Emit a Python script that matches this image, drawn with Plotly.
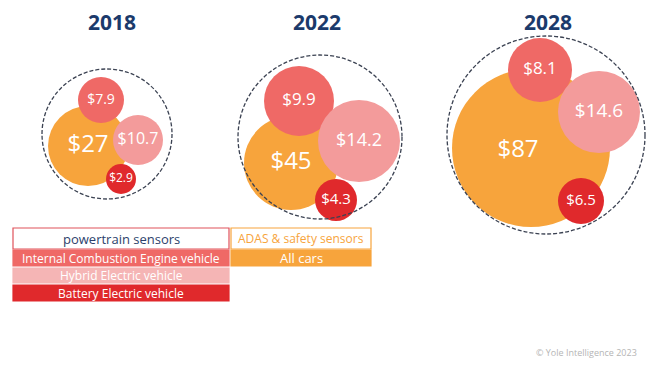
import plotly.graph_objects as go

# ---- data ----
years = ["2018", "2022", "2028"]
all_cars = [27, 45, 87]
ice_vehicle = [7.9, 9.9, 8.1]
hybrid_vehicle = [10.7, 14.2, 14.6]
battery_vehicle = [2.9, 4.3, 6.5]
segment_names = ["All cars", "Internal Combustion Engine vehicle",
                 "Hybrid Electric vehicle", "Battery Electric vehicle"]

# ---- layout (page pixel space) ----
W, H = 660, 372
OFF = 8  # browser body margin
colors = {"All cars": "#F7A43C", "Internal Combustion Engine vehicle": "#EF6966",
          "Hybrid Electric vehicle": "#F39B9B", "Battery Electric vehicle": "#E0292C"}
title_x = [112, 317, 548]
outer = [(107, 134, 65), (320, 137, 82), (546, 135, 99)]
# per year: (cx, cy, radius, font size, label dx, label dy) for each segment in order
bubble_pos = [
    [(88, 146, 40, 24, 0, 0), (101, 100, 23, 14, 0, 0), (138, 140, 25, 16, 0, 0), (121, 179, 15, 12, 0, 0)],
    [(291, 163, 47, 24, 0, 0), (299, 101, 35, 17, 0, 0), (359, 141, 41, 18, 0, 0), (336, 200, 21, 15, 0, 0)],
    [(531, 148, 79, 24, -13, 3), (540, 70, 32, 17, 0, 0), (599, 112, 41, 19, 0, 0), (581, 201, 23, 15, 0, 0)],
]
FONT = "Open Sans"

fig = go.Figure()
series = [all_cars, ice_vehicle, hybrid_vehicle, battery_vehicle]
for si, name in enumerate(segment_names):
    xs, ys, sz, tx, ty, txt, fs = [], [], [], [], [], [], []
    for yi in range(len(years)):
        cx, cy, r, f, dx, dy = bubble_pos[yi][si]
        xs.append(cx); ys.append(cy); sz.append(2 * r)
        tx.append(cx + dx); ty.append(cy + dy)
        v = series[si][yi]
        txt.append("$" + (f"{v:g}" if v != int(v) else str(int(v))))
        fs.append(f)
    fig.add_trace(go.Scatter(
        x=xs, y=ys, mode="markers",
        marker=dict(size=sz, color=colors[name], line=dict(width=0), opacity=1),
        hoverinfo="skip", showlegend=False))
    fig.add_trace(go.Scatter(
        x=tx, y=ty, mode="text", text=txt, textposition="middle center",
        textfont=dict(color="white", size=fs, family=FONT),
        hoverinfo="skip", showlegend=False))

shapes = []
annotations = []
for yi, yr in enumerate(years):
    cx, cy, r = outer[yi]
    shapes.append(dict(type="circle", xref="x", yref="y", x0=cx - r, x1=cx + r,
                       y0=cy - r, y1=cy + r,
                       line=dict(color="#3B4252", width=1.3, dash="4px,2px"), layer="above"))
    annotations.append(dict(x=title_x[yi], y=22, xref="x", yref="y", text=f"<b>{yr}</b>",
                            showarrow=False, font=dict(size=21, color="#1B3A6B", family=FONT)))

# legend boxes
legend_items = [
    ("powertrain sensors", 13, 229, 228, 249, "white", "#E0525A", "#2B3F6B", 13),
    ("Internal Combustion Engine vehicle", 13, 229, 250, 266, colors[segment_names[1]], colors[segment_names[1]], "white", 12),
    ("Hybrid Electric vehicle", 13, 229, 268, 283, "#F5B5B5", "#F5B5B5", "white", 12),
    ("Battery Electric vehicle", 13, 229, 285, 301, colors[segment_names[3]], colors[segment_names[3]], "white", 12),
    ("ADAS & safety sensors", 231, 371, 228, 249, "white", colors[segment_names[0]], colors[segment_names[0]], 12),
    ("All cars", 231, 371, 250, 266, colors[segment_names[0]], colors[segment_names[0]], "white", 13),
]
for text, x0, x1, y0, y1, fill, border, tcol, fsz in legend_items:
    shapes.append(dict(type="rect", xref="x", yref="y", x0=x0, x1=x1, y0=y0, y1=y1,
                       fillcolor=fill, line=dict(color=border, width=1.2), layer="below"))
    annotations.append(dict(x=(x0 + x1) / 2, y=(y0 + y1) / 2, xref="x", yref="y", text=text,
                            showarrow=False, font=dict(size=fsz, color=tcol, family=FONT)))

annotations.append(dict(x=639, y=352, xref="x", yref="y", text="© Yole Intelligence 2023",
                        xanchor="right", showarrow=False,
                        font=dict(size=9, color="#B5B5B5", family=FONT)))

fig.update_layout(
    width=W, height=H, margin=dict(l=0, r=0, t=0, b=0),
    paper_bgcolor="white", plot_bgcolor="white",
    xaxis=dict(range=[OFF, W + OFF], visible=False, fixedrange=True),
    yaxis=dict(range=[H + OFF, OFF], visible=False, fixedrange=True),
    shapes=shapes, annotations=annotations, hovermode=False, showlegend=False,
)
fig.write_html("out.html", config={"displayModeBar": False})
